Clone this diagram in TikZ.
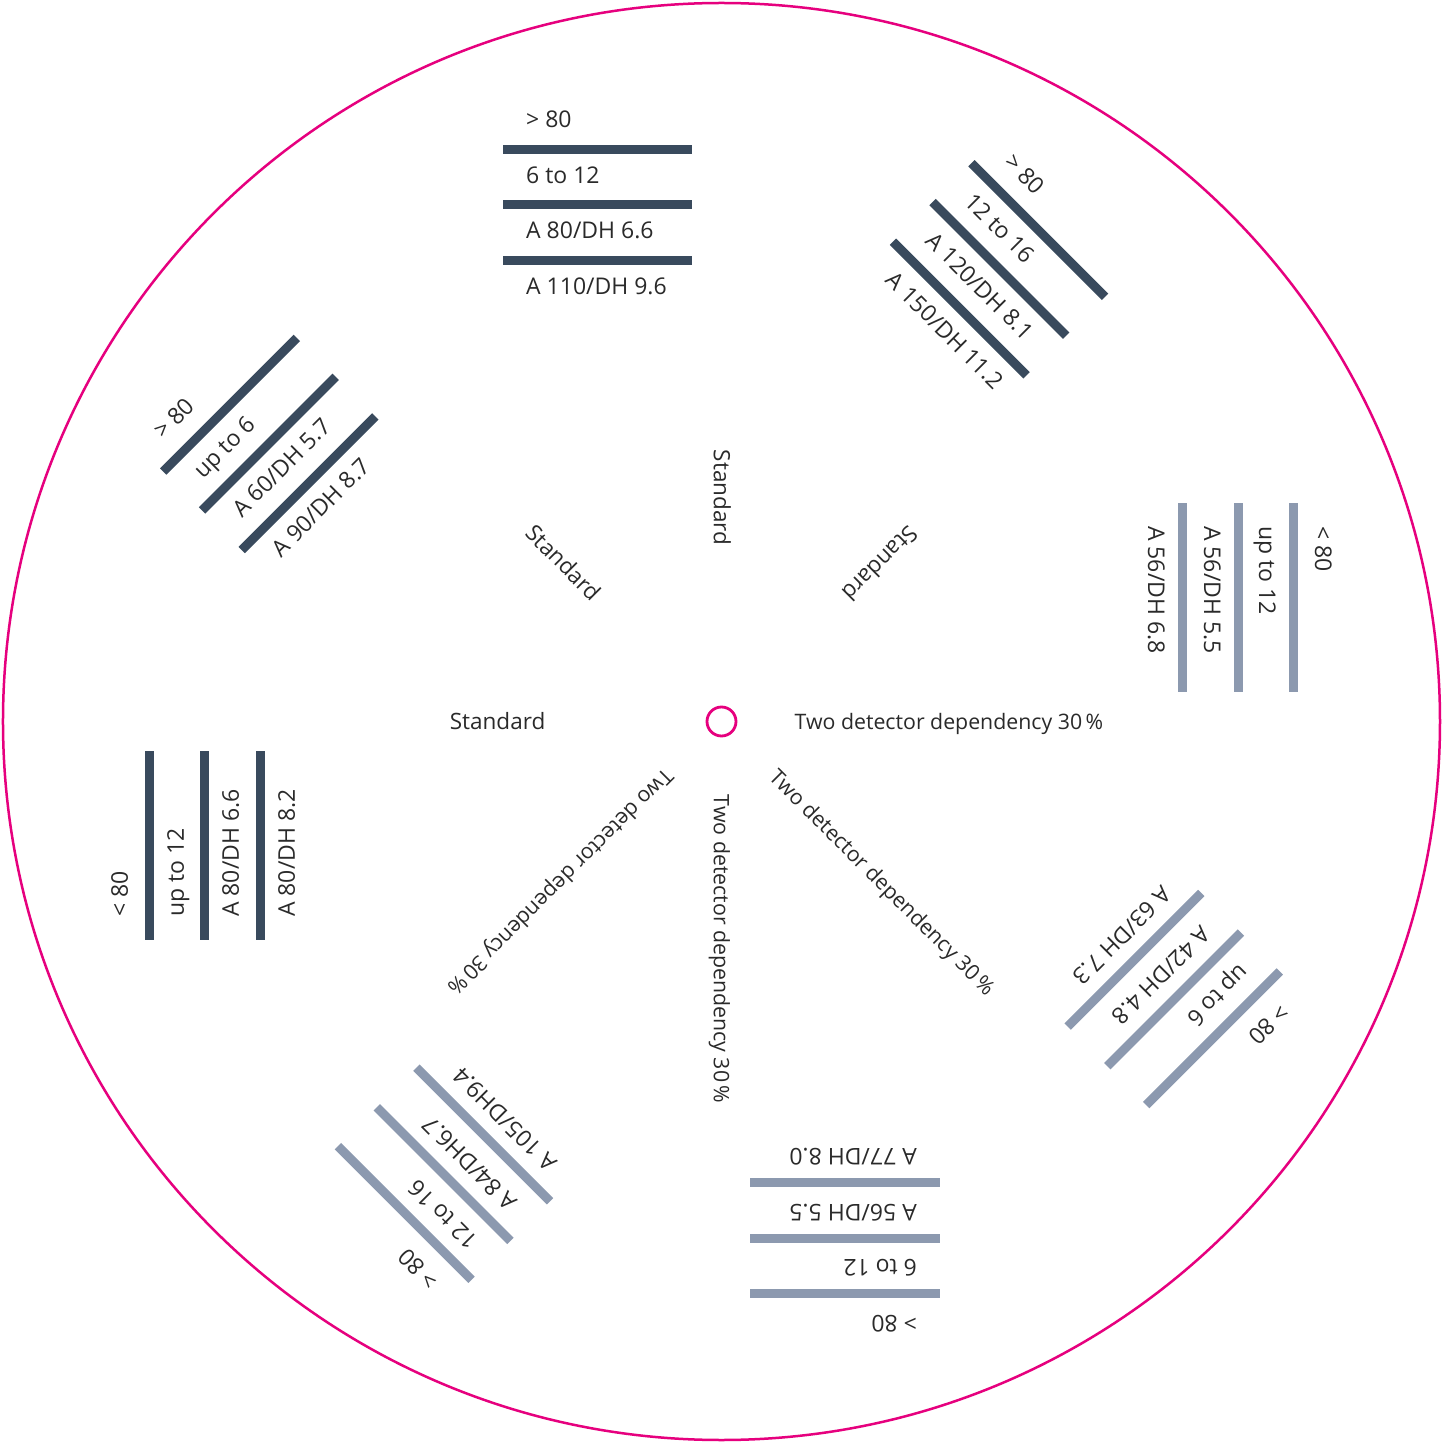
\documentclass[tikz,border=0pt]{standalone}
\usepackage{fontspec}
\setmainfont{Open Sans}
\definecolor{mag}{HTML}{E6007E}
\definecolor{bardark}{HTML}{394A5D}
\definecolor{barlight}{HTML}{8C99AF}
\definecolor{txt}{HTML}{2A2A2A}
\tikzset{
  ring/.style={draw=mag, line width=2.5pt, circle, inner sep=0pt},
  barline/.style={line width=9pt, line cap=butt},
  grouplabel/.style={anchor=base west, inner sep=0pt, text=txt, font=\fontsize{23}{27}\selectfont},
  innerlabel/.style={inner sep=0pt, text=txt, font=\fontsize{21.3}{26}\selectfont},
  stdlabel/.style={inner sep=0pt, text=txt, font=\fontsize{22.5}{27}\selectfont},
}
\newcommand\ringgroup[6]{%
  \begin{scope}[rotate=-45*#1, transform shape]
    \coordinate (g#1aw) at (-218,571.5); \coordinate (g#1ae) at (-29,571.5);
    \coordinate (g#1bw) at (-218,516.5); \coordinate (g#1be) at (-29,516.5);
    \coordinate (g#1cw) at (-218,460.5); \coordinate (g#1ce) at (-29,460.5);
    \draw[barline, #2] (g#1aw) -- (g#1ae);
    \draw[barline, #2] (g#1bw) -- (g#1be);
    \draw[barline, #2] (g#1cw) -- (g#1ce);
    \node[grouplabel] (g#1l1) at (-195.5,593.5) {#3};
    \node[grouplabel] (g#1l2) at (-195.5,537.5) {#4};
    \node[grouplabel] (g#1l3) at (-195.5,482.5) {#5};
    \node[grouplabel] (g#1l4) at (-195.5,426.5) {#6};
  \end{scope}}
\begin{document}
\begin{tikzpicture}[x=1pt, y=1pt]
  \useasboundingbox (-721.5,-721.5) rectangle (721.5,721.5);
  \fill[white] (-721.5,-721.5) rectangle (721.5,721.5);
  \node[ring, minimum size=1437pt] (rim) at (0,0) {};
  \node[ring, line width=2.8pt, minimum size=29pt] (hub) at (0,0) {};
  % groups
  \ringgroup{0}{bardark}{> 80}{6 to 12}{A 80/DH 6.6}{A 110/DH 9.6}
  \ringgroup{1}{bardark}{> 80}{12 to 16}{A 120/DH 8.1}{A 150/DH 11.2}
  \ringgroup{2}{barlight}{< 80}{up to 12}{A 56/DH 5.5}{A 56/DH 6.8}
  \ringgroup{3}{barlight}{> 80}{up to 6}{A 42/DH 4.8}{A 63/DH 7.3}
  \ringgroup{4}{barlight}{> 80}{6 to 12}{A 56/DH 5.5}{A 77/DH 8.0}
  \ringgroup{5}{barlight}{> 80}{12 to 16}{A 84/DH6.7}{A 105/DH9.4}
  \ringgroup{6}{bardark}{< 80}{up to 12}{A 80/DH 6.6}{A 80/DH 8.2}
  \ringgroup{7}{bardark}{> 80}{up to 6}{A 60/DH 5.7}{A 90/DH 8.7}
  % inner labels
  \foreach \j in {0,1,2,3}{
    \begin{scope}[rotate=-45*\j, transform shape]
      \node[innerlabel, anchor=base west] (td\j) at (73,-7.5) {Two detector dependency 30\,\%};
      \node[stdlabel, anchor=base east] (st\j) at (-176,-7.5) {Standard};
    \end{scope}
  }
\end{tikzpicture}
\end{document}
